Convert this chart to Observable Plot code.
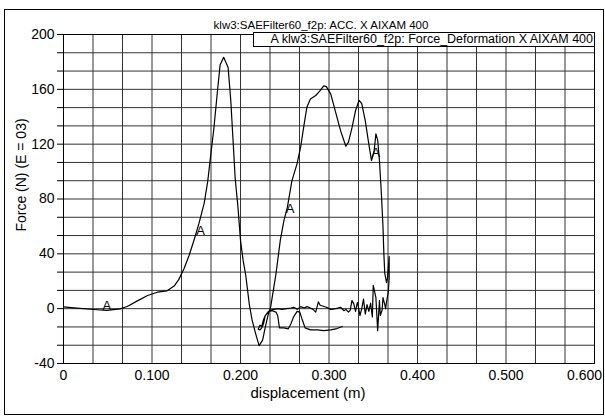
<!DOCTYPE html>
<html>
<head>
<meta charset="utf-8">
<script src="https://cdn.jsdelivr.net/npm/d3@7"></script>
<script src="https://cdn.jsdelivr.net/npm/@observablehq/plot@0.6"></script>
<style>
  html, body { margin: 0; padding: 0; background: #fff; }
  body { font-family: "Liberation Sans", Arial, Helvetica, sans-serif; }
  #wrap { position: relative; width: 605px; height: 416px; overflow: hidden; }
  #frame { position: absolute; left: 4px; top: 9px; width: 598px; height: 404px; border: 1px solid #000; pointer-events: none; }
  #title { position: absolute; top: 18px; left: 0; width: 642px; text-align: center; font-size: 11.5px; line-height: 14px; color: #000; white-space: nowrap; }
  #legend { position: absolute; left: 253px; top: 32px; width: 339px; height: 13px; border: 1px solid #000; background: #fff; font-size: 12.5px; line-height: 13px; text-align: right; padding-right: 1px; color: #000; white-space: nowrap; }
</style>
</head>
<body>
<div id="wrap">
  <div id="chart"></div>
  <div id="frame"></div>
  <div id="title"></div>
  <div id="legend"></div>
</div>
<script>
// ---- Chart texts ----
const titleText = "klw3:SAEFilter60_f2p: ACC. X AIXAM 400";
const legendText = "A klw3:SAEFilter60_f2p: Force_Deformation X AIXAM 400";
const xLabel = "displacement (m)";
const yLabel = "Force (N) (E = 03)";

// ---- Axis tick values / labels ----
const xTickValues = [0, 0.1, 0.2, 0.3, 0.4, 0.5, 0.6];
const xTickLabels = ["0", "0.100", "0.200", "0.300", "0.400", "0.500", "0.600"];
const yTickValues = [-40, 0, 40, 80, 120, 160, 200];
const yTickLabels = ["-40", "0", "40", "80", "120", "160", "200"];

// ---- Force_Deformation curve (displacement m, force N E=03), in drawing order ----
const displacement = [
  0, 0.015, 0.034, 0.049, 0.064, 0.072, 0.083, 0.095, 0.106, 0.117,
  0.125, 0.130, 0.136, 0.142, 0.147, 0.153, 0.159, 0.163, 0.166, 0.170,
  0.174, 0.177, 0.181, 0.186, 0.189, 0.192, 0.194, 0.197, 0.200, 0.203,
  0.206, 0.210, 0.213, 0.217, 0.221, 0.225, 0.228, 0.231, 0.234, 0.240,
  0.245, 0.249, 0.253, 0.258, 0.264, 0.268, 0.272, 0.275, 0.279, 0.285,
  0.290, 0.294, 0.297, 0.302, 0.307, 0.313, 0.319, 0.322, 0.326, 0.330,
  0.334, 0.337, 0.341, 0.345, 0.348, 0.351, 0.353, 0.355, 0.357, 0.359,
  0.361, 0.362, 0.363, 0.365, 0.366, 0.367, 0.368, 0.368, 0.367, 0.365,
  0.364, 0.363, 0.361, 0.360, 0.358, 0.357, 0.355, 0.353, 0.350, 0.349,
  0.347, 0.345, 0.343, 0.341, 0.339, 0.337, 0.335, 0.333, 0.332, 0.330,
  0.328, 0.326, 0.324, 0.322, 0.319, 0.317, 0.313, 0.308, 0.302, 0.297,
  0.290, 0.288, 0.285, 0.282, 0.279, 0.275, 0.272, 0.268, 0.264, 0.260,
  0.257, 0.252, 0.247, 0.242, 0.238, 0.234, 0.231, 0.228, 0.226, 0.224,
  0.222, 0.220, 0.222, 0.224, 0.226, 0.228, 0.232, 0.236, 0.240, 0.242,
  0.244, 0.249, 0.254, 0.257, 0.260, 0.264, 0.267, 0.270, 0.273, 0.279,
  0.287, 0.294, 0.302, 0.309, 0.315
];
const force = [
  1.3, 0.4, -0.6, -1.2, -0.2, 1.6, 5.5, 9.6, 12, 13,
  16.5, 21, 29, 39, 49, 62, 77, 93, 110, 132,
  159, 178, 183.4, 176, 152, 118, 95, 75, 50, 35,
  24, 3, -8, -18, -27, -23, -13.5, -5, 1, 25,
  50, 64, 74, 93, 106, 118, 135, 147, 153, 155.5,
  159, 162.5, 162, 156.5, 144.5, 130, 118.5, 121.5, 132, 144.5,
  152, 149.5, 137, 120, 108, 115, 127.5, 123, 108, 86,
  60, 40, 26, 19, 22, 30, 38, 22, 12, 5,
  0, 3, 8, -1, -5, 6, -16, 8, 17, -6,
  4, -2, 3, -4, 7, 0, -5, 2, 4.5, -2,
  3.5, 6, -1, -2.5, -0.5, -1.5, 1, 0, -0.5, 1,
  2.5, 5, -2.5, -0.5, 0.5, 1.5, 0.5, 1.5, -0.5, 1,
  0.5, 0, -0.5, 0, -0.5, -1, -2.5, -5, -11, -14,
  -15.5, -15, -12, -13, -8, -5, -2, -1.5, -2.5, -5,
  -14, -14, -14.7, -11, -6, -2, -2.5, -8.5, -14, -15.5,
  -15.5, -16, -15.5, -14.5, -13
];

// ---- Curve markers "A" ----
const markerX = [0.049, 0.155, 0.256, 0.353];
const markerY = [2.3, 56.5, 72.9, 113.7];
const markerLabel = ["A", "A", "A", "A"];

// ---- build ----
const curve = displacement.map((d, i) => ({x: d, y: force[i], i}));
const markers = markerX.map((d, i) => ({x: d, y: markerY[i], t: markerLabel[i]}));
const xGrid = d3.range(19).map(i => 0.6 * i / 18);
const yGrid = d3.range(19).map(i => -40 + 240 * i / 18);
const xLabelOf = new Map(xTickValues.map((v, i) => [v, xTickLabels[i]]));
const yLabelOf = new Map(yTickValues.map((v, i) => [v, yTickLabels[i]]));

document.getElementById("title").textContent = titleText;
document.getElementById("legend").textContent = legendText;

const chart = Plot.plot({
  width: 605,
  height: 416,
  marginLeft: 63,
  marginRight: 11,
  marginTop: 34,
  marginBottom: 53,
  style: {fontFamily: "'Liberation Sans', Arial, Helvetica, sans-serif", fontSize: "14px", color: "#000", background: "#fff", overflow: "visible"},
  x: {domain: [0, 0.6]},
  y: {domain: [-40, 200]},
  marks: [
    Plot.ruleX(xGrid, {stroke: "#333", strokeWidth: 1}),
    Plot.ruleY(yGrid, {stroke: "#333", strokeWidth: 1}),
    Plot.frame({stroke: "#000"}),
    Plot.axisY(yGrid, {
      tickSize: 6, tickPadding: 3, label: null, stroke: "#000",
      tickFormat: d => {
        const k = [...yLabelOf.keys()].find(v => Math.abs(v - d) < 1e-6);
        return k === undefined ? "" : yLabelOf.get(k);
      },
      fontSize: 14
    }),
    Plot.axisX(xTickValues.slice(0, -1), {tickSize: 0, tickPadding: 7, label: null, tickFormat: d => xLabelOf.get(d), fontSize: 14}),
    Plot.axisX(xTickValues.slice(-1), {tickSize: 0, tickPadding: 7, label: null, tickFormat: d => xLabelOf.get(d), fontSize: 14, dx: -10}),
    Plot.text([xLabel], {frameAnchor: "bottom", text: d => d, dx: -21, dy: 34, fontSize: 15}),
    Plot.text([yLabel], {frameAnchor: "left", text: d => d, textAnchor: "middle", rotate: -90, dx: -42, dy: -24, fontSize: 14}),
    Plot.line(curve, {x: "x", y: "y", sort: null, stroke: "#000", strokeWidth: 1.2, curve: "linear"}),
    Plot.text(markers, {x: "x", y: "y", text: "t", fontSize: 13, fill: "#000"})
  ]
});
document.getElementById("chart").appendChild(chart);
</script>
</body>
</html>
